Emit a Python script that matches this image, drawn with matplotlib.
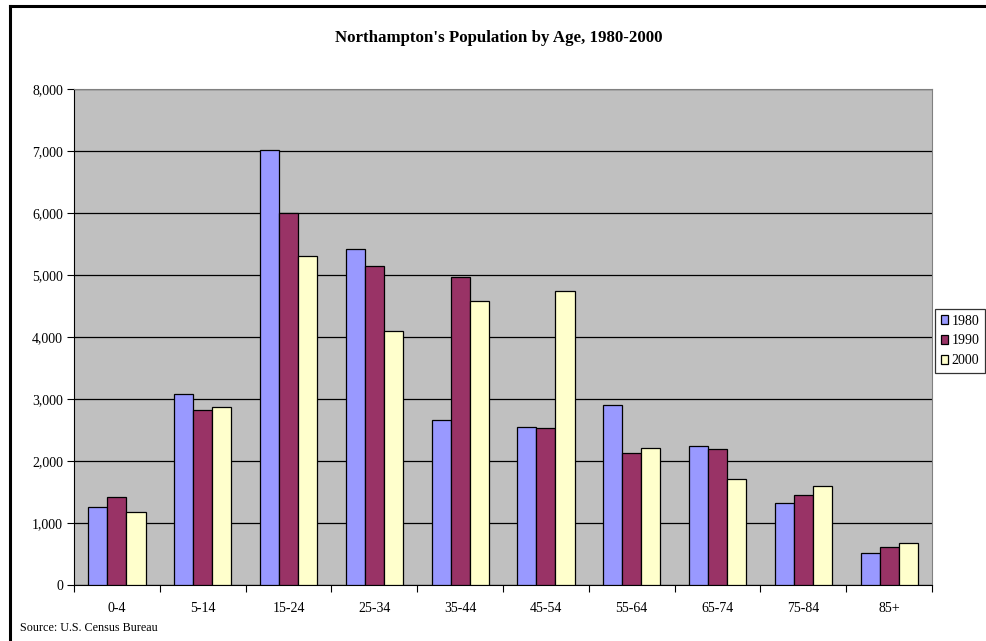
import numpy as np
import matplotlib.pyplot as plt
from matplotlib.lines import Line2D

plt.rcParams['font.family'] = ['Liberation Serif', 'DejaVu Serif']

ages = ['0-4', '5-14', '15-24', '25-34', '35-44', '45-54', '55-64', '65-74', '75-84', '85+']
pop_1980 = [1263, 3081, 7016, 5425, 2661, 2554, 2898, 2247, 1328, 521]
pop_1990 = [1414, 2823, 6005, 5145, 4973, 2527, 2124, 2194, 1452, 618]
pop_2000 = [1183, 2876, 5312, 4097, 4575, 4737, 2204, 1715, 1597, 683]
years = ['1980', '1990', '2000']
colors = ['#9999ff', '#993366', '#ffffcc']

fig = plt.figure(figsize=(9.86, 6.41), dpi=100)
ax = fig.add_axes([74 / 986, 56 / 641, 858 / 986, 496 / 641])
ax.set_facecolor('#c0c0c0')

x = np.arange(len(ages))
w = 1 / 4.5
for i, (vals, c, lab) in enumerate(zip([pop_1980, pop_1990, pop_2000], colors, years)):
    ax.bar(x + (i - 1) * w, vals, width=w, color=c, edgecolor='black',
           linewidth=0.9, label=lab, zorder=3)

ax.set_xlim(-0.5, len(ages) - 0.5)
ax.set_ylim(0, 8000)
ax.set_yticks(range(0, 8001, 1000))
ax.set_yticklabels([f'{v:,}' for v in range(0, 8001, 1000)])
ax.yaxis.grid(True, color='black', linewidth=0.9, zorder=1)
ax.set_axisbelow(True)

ax.set_xticks(x)
ax.set_xticklabels(ages)
ax.set_xticks(np.arange(-0.5, len(ages)), minor=True)
ax.tick_params(axis='x', which='major', length=0, pad=12, labelsize=10)
ax.tick_params(axis='x', which='minor', length=5, direction='out', width=0.8)
ax.tick_params(axis='y', length=5, direction='out', width=0.8, labelsize=10, pad=3)

for s in ['top', 'right']:
    ax.spines[s].set_color('#808080')
for s in ['left', 'bottom']:
    ax.spines[s].set_color('black')

fig.text(499 / 986, 1 - 38 / 641, "Northampton's Population by Age, 1980-2000",
         ha='center', va='center', fontsize=12.2, fontweight='bold')
fig.text(20 / 986, 1 - 628 / 641, 'Source: U.S. Census Bureau',
         ha='left', va='center', fontsize=8.7)

leg = ax.legend(loc='upper left', bbox_to_anchor=(935 / 986, 1 - 309 / 641),
                bbox_transform=fig.transFigure, frameon=True, fancybox=False,
                fontsize=10, handlelength=0.55, handleheight=0.55, handletextpad=0.25,
                borderpad=0.4, labelspacing=0.5, borderaxespad=0)
leg.get_frame().set_edgecolor('black')
leg.get_frame().set_linewidth(0.9)

# outer chart border (cropped on the right and bottom)
fig.add_artist(Line2D([10 / 986, 10 / 986], [0, 1 - 6 / 641], transform=fig.transFigure,
                      color='black', linewidth=2.2))
fig.add_artist(Line2D([10 / 986, 1], [1 - 6 / 641, 1 - 6 / 641], transform=fig.transFigure,
                      color='black', linewidth=2.2))

fig.savefig('out.png', dpi=100)
